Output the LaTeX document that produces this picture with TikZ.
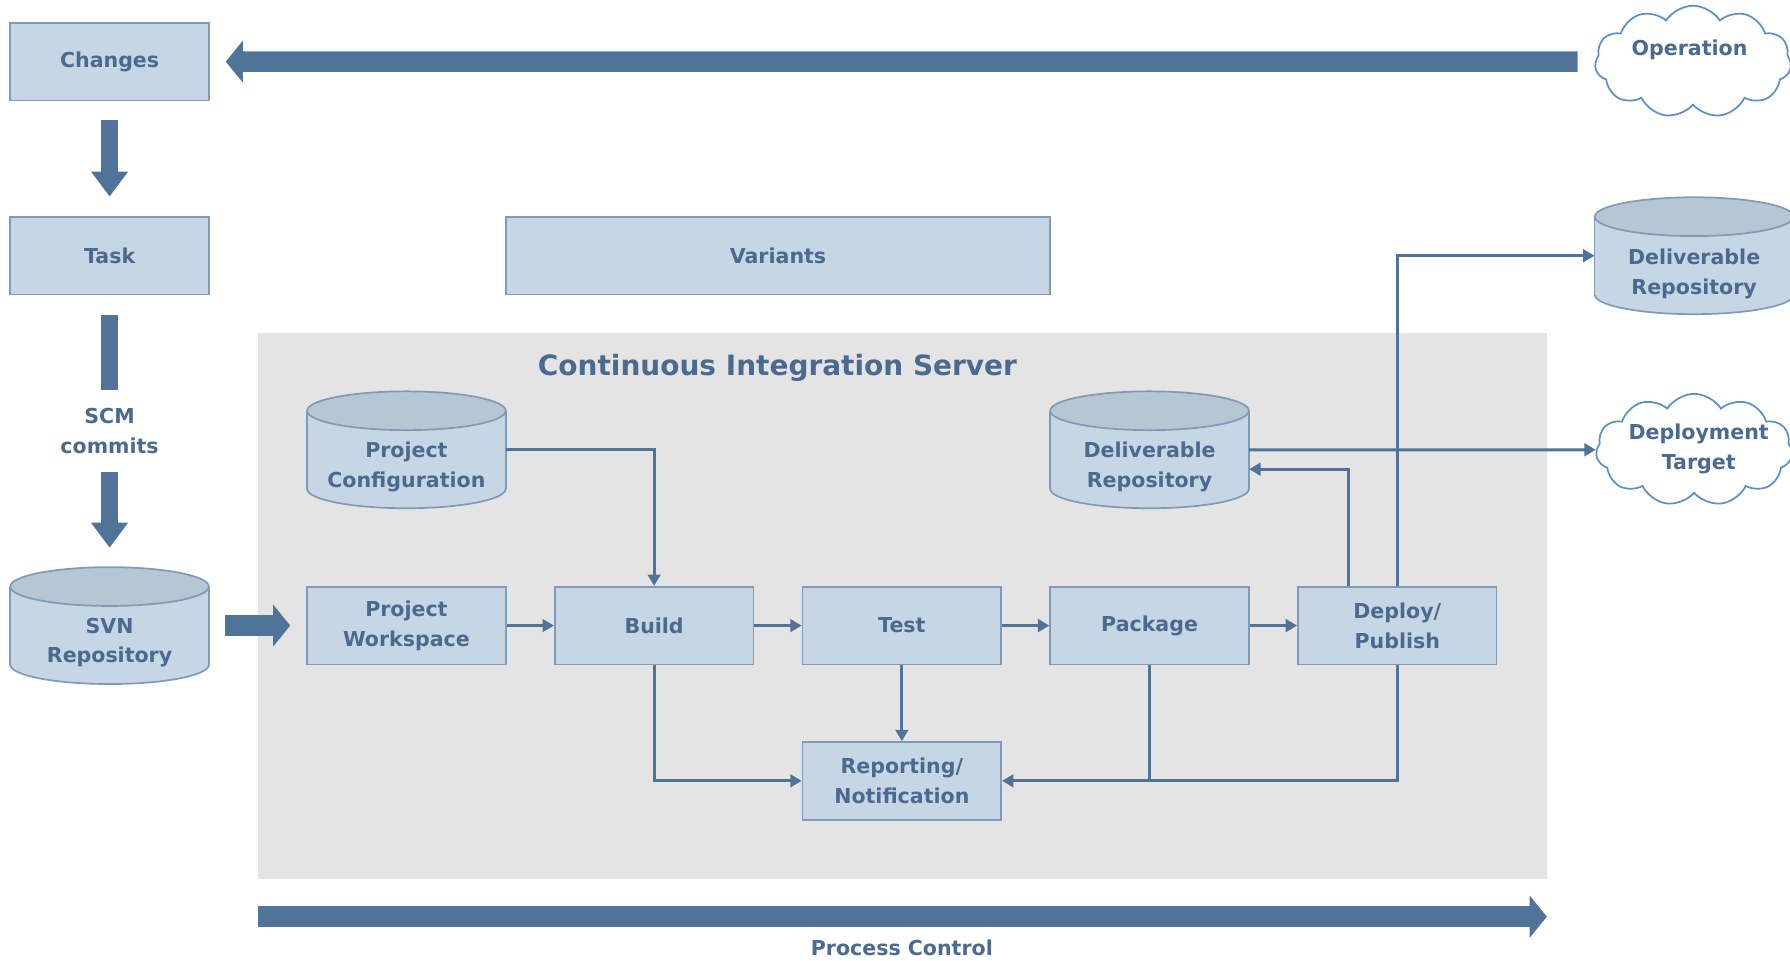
\documentclass[tikz,border=0pt]{standalone}
\usepackage{fontspec}
\setmainfont{DejaVu Sans}
\usetikzlibrary{shapes.symbols,arrows.meta,calc}
\definecolor{boxfill}{HTML}{C6D6E4}
\definecolor{boxline}{HTML}{7F9BB8}
\definecolor{txt}{HTML}{4A6A8F}
\definecolor{arr}{HTML}{4F7399}
\definecolor{cyltop}{HTML}{B7C6D3}
\definecolor{srv}{HTML}{E4E4E4}
\definecolor{cloudline}{HTML}{5A8FC8}
\pgfdeclarelayer{bg}\pgfdeclarelayer{mid}\pgfsetlayers{bg,mid,main}
\newcommand\drawcyl[1]{%
 \begin{pgfonlayer}{mid}
 \filldraw[fill=boxfill,draw=boxline,line width=1.5pt] ($(#1.south)+(0,-17)$) ellipse [x radius=87pt, y radius=17pt];
 \fill[boxfill] ($(#1.north west)+(0,17)$) rectangle ($(#1.south east)+(0,-17)$);
 \draw[boxline,line width=1.5pt] ($(#1.north west)+(0,17)$) -- ($(#1.south west)+(0,-17)$) ($(#1.north east)+(0,17)$) -- ($(#1.south east)+(0,-17)$);
 \filldraw[fill=cyltop,draw=boxline,line width=1.5pt] ($(#1.north)+(0,17)$) ellipse [x radius=87pt, y radius=17pt];
 \end{pgfonlayer}}
\begin{document}
\begin{tikzpicture}[x=1pt,y=-1pt,
  lbl/.style={font=\bfseries\fontsize{18}{26}\selectfont, text=txt, align=center, inner sep=0},
  box/.style={lbl, draw=boxline, fill=boxfill, line width=1.5pt, minimum width=174pt, minimum height=68pt},
  cylnode/.style={minimum width=174pt, minimum height=102pt, inner sep=0},
  cloudst/.style={cloud, cloud puffs=11, cloud puff arc=115, aspect=1.8, draw=cloudline, fill=white, line width=1.5pt, minimum width=172pt, minimum height=98pt, inner sep=0},
  conn/.style={draw=arr, line width=2.6pt, -{Triangle[length=10pt 0 0,width=11pt 0 0]}},
  plain/.style={draw=arr, line width=2.6pt},
  fatline/.style={draw=arr, line width=15pt},
  fatv/.style={draw=arr, line width=15pt, -{Triangle[length=22pt 0 0,width=31pt 0 0]}},
  fath/.style={draw=arr, line width=18pt, -{Triangle[length=15pt 0 0,width=36pt 0 0]}}
]
\useasboundingbox (0,0) rectangle (1568,841);
\begin{pgfonlayer}{bg}
\node[fill=srv, minimum width=1129pt, minimum height=478pt, inner sep=0] (server) at (790.5,531) {};
\end{pgfonlayer}

\node[box] (chg) at (96,54) {Changes};
\node[box] (task) at (96,224) {Task};
\node[box, minimum width=477pt] (var) at (681.5,224) {Variants};
\node[lbl, minimum height=71pt] (scm) at (96,377.5) {SCM\\commits};

\node[cylnode] (svn) at (96,548) {};
\node[lbl] (svn-t) at (96,563) {SVN\\Repository};
\node[cylnode] (pcfg) at (356,394) {};
\node[lbl] (pcfg-t) at (356,409) {Project\\Configuration};
\node[cylnode] (dr) at (1007,394) {};
\node[lbl] (dr-t) at (1007,409) {Deliverable\\Repository};
\node[cylnode] (odr) at (1484,224) {};
\node[lbl] (odr-t) at (1484,240) {Deliverable\\Repository};
\drawcyl{svn}\drawcyl{pcfg}\drawcyl{dr}\drawcyl{odr}

\node[box] (ws) at (356,548) {Project\\Workspace};
\node[box] (build) at (573,548) {Build};
\node[box] (test) at (790,548) {Test};
\node[box] (pkg) at (1007,548) {Package};
\node[box] (dep) at (1224,548) {Deploy/\\Publish};
\node[box] (rep) at (790,684) {Reporting/\\Notification};

\node[cloudst] (op) at (1483,54) {};
\node[lbl] (op-t) at (1480,44) {Operation};
\node[cloudst] (dt) at (1484,394) {};
\node[lbl] (dt-t) at (1488,393) {Deployment\\Target};

\node[lbl, font=\bfseries\fontsize{24.5}{30}\selectfont] (title) at (681,322) {Continuous Integration Server};

\coordinate (pcL) at (226,803);
\coordinate (pcR) at (1355,803);
\node[lbl] (pc-t) at (790,830) {Process Control};

% thick arrows
\draw[fath, shorten <=15pt, shorten >=14pt] (op.west) -- (chg.east);
\draw[fatv, shorten <=16pt, shorten >=17pt] (chg.south) -- (task.north);
\draw[fatline, shorten <=17pt] (task.south) -- (scm.north);
\draw[fatv, shorten >=17pt] (scm.south) -- (svn.north);
\draw[fath, shorten <=14pt, shorten >=14pt] (svn.east) -- (ws.west);
\draw[fath] (pcL) -- (pcR);

% thin connectors
\draw[conn] (pcfg.east) -| (build.north);
\draw[conn] (ws.east) -- (build.west);
\draw[conn] (build.east) -- (test.west);
\draw[conn] (test.east) -- (pkg.west);
\draw[conn] (pkg.east) -- (dep.west);
\draw[conn] (build.south) |- (rep.west);
\draw[conn] (test.south) -- (rep.north);
\draw[plain] (pkg.south) -- (pkg.south |- rep.east);
\draw[conn] (dep.south) |- (rep.east);
\draw[conn] ($(dep.north)+(-43,0)$) |- ($(dr.east)+(0,17)$);
\draw[conn] (dep.north) |- (odr.west);
\draw[conn] (dr.east) -- (dt.west);
\end{tikzpicture}
\end{document}
